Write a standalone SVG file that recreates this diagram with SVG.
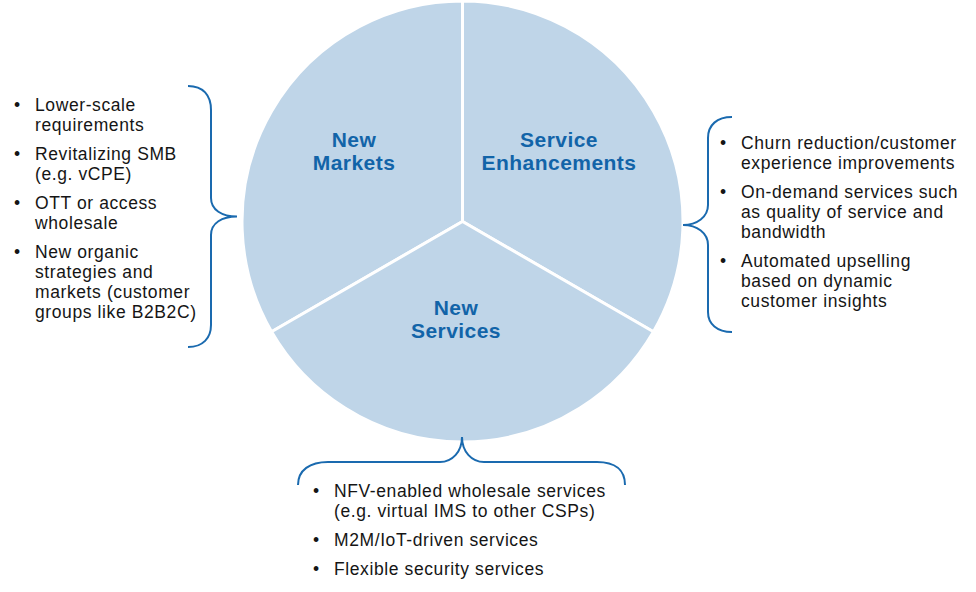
<svg xmlns="http://www.w3.org/2000/svg" width="976" height="592" viewBox="0 0 976 592">
<style>
.sector{fill:#BFD5E8;stroke:#FFFFFF;stroke-width:3;stroke-linejoin:miter}
.title{font-family:"Liberation Sans",Arial,sans-serif;font-weight:bold;font-size:21px;fill:#1264A8;text-anchor:middle;letter-spacing:0.45px}
.body{font-family:"Liberation Sans",Arial,sans-serif;font-size:17.5px;fill:#151515;letter-spacing:0.6px}
.brace{fill:none;stroke:#1A6AAF;stroke-width:2}
</style>
<rect width="976" height="592" fill="#FFFFFF"/>
<g id="new-markets">
<path class="sector" d="M462.5,221.5 L462.5,1 A220.5,220.5 0 0 0 271.55,331.75 Z"/>
<text class="title" x="354" y="147">New</text>
<text class="title" x="354" y="170">Markets</text>
</g>
<g id="service-enhancements">
<path class="sector" d="M462.5,221.5 L462.5,1 A220.5,220.5 0 0 1 653.45,331.75 Z"/>
<text class="title" x="559" y="147">Service</text>
<text class="title" x="559" y="170">Enhancements</text>
</g>
<g id="new-services">
<path class="sector" d="M462.5,221.5 L271.55,331.75 A220.5,220.5 0 0 0 653.45,331.75 Z"/>
<text class="title" x="456" y="315">New</text>
<text class="title" x="456" y="338">Services</text>
</g>
<g id="connectors">
<path class="brace" d="M188,86 C203,86 211,95 211,110 L211,198 C211,210 222,216.5 237,216.5 C222,216.5 211,223 211,235 L211,325 C211,338 203,347 188,347"/>
<path class="brace" d="M732,117 C717,117 708,125 708,138 L708,205 C708,217 697,225 683,225 C697,225 708,233 708,245 L708,312 C708,324 717,332 732,332"/>
<path class="brace" d="M298,485 C298,470 310,462 328,462 L440,462 C452,462 462,452 462,437 C462,452 472,462 484,462 L597,462 C615,462 625,470 625,485"/>
</g>
<g id="new-markets-list">
<text class="body" x="14" y="111">•</text>
<text class="body" x="35" y="111">Lower-scale</text>
<text class="body" x="35" y="131">requirements</text>
<text class="body" x="14" y="160">•</text>
<text class="body" x="35" y="160">Revitalizing SMB</text>
<text class="body" x="35" y="180">(e.g. vCPE)</text>
<text class="body" x="14" y="209">•</text>
<text class="body" x="35" y="209">OTT or access</text>
<text class="body" x="35" y="229">wholesale</text>
<text class="body" x="14" y="258">•</text>
<text class="body" x="35" y="258">New organic</text>
<text class="body" x="35" y="278">strategies and</text>
<text class="body" x="35" y="298">markets (customer</text>
<text class="body" x="35" y="318">groups like B2B2C)</text>
</g>
<g id="service-enhancements-list">
<text class="body" x="720" y="149">•</text>
<text class="body" x="741" y="149">Churn reduction/customer</text>
<text class="body" x="741" y="169">experience improvements</text>
<text class="body" x="720" y="198">•</text>
<text class="body" x="741" y="198">On-demand services such</text>
<text class="body" x="741" y="218">as quality of service and</text>
<text class="body" x="741" y="238">bandwidth</text>
<text class="body" x="720" y="267">•</text>
<text class="body" x="741" y="267">Automated upselling</text>
<text class="body" x="741" y="287">based on dynamic</text>
<text class="body" x="741" y="307">customer insights</text>
</g>
<g id="new-services-list">
<text class="body" x="313" y="497">•</text>
<text class="body" x="334" y="497">NFV-enabled wholesale services</text>
<text class="body" x="334" y="517">(e.g. virtual IMS to other CSPs)</text>
<text class="body" x="313" y="546">•</text>
<text class="body" x="334" y="546">M2M/IoT-driven services</text>
<text class="body" x="313" y="575">•</text>
<text class="body" x="334" y="575">Flexible security services</text>
</g>
</svg>
